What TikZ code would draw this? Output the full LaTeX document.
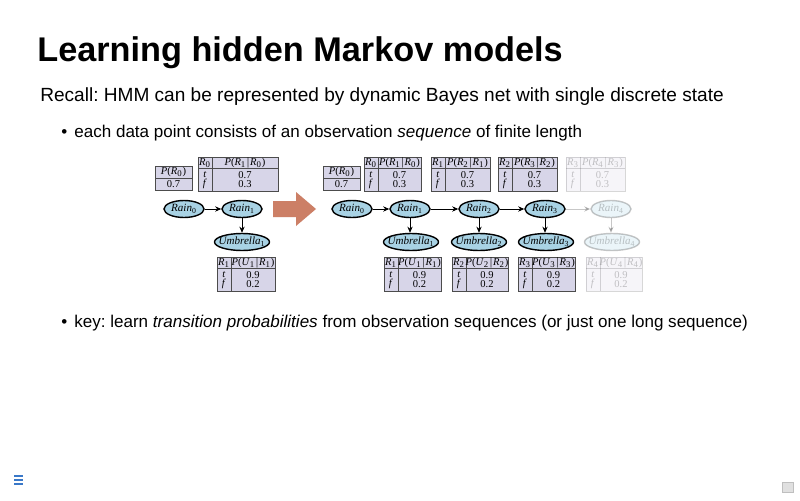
\documentclass[tikz,border=0pt]{standalone}
\usepackage{fontspec}
\setmainfont{Liberation Sans}
\newfontfamily\diagfont{Liberation Serif}
\usetikzlibrary{positioning,arrows.meta,shapes.geometric}
\frenchspacing

\definecolor{cptfill}{HTML}{D7D5E8}
\definecolor{statefill}{HTML}{A8D2E4}
\definecolor{bigarrow}{HTML}{CC7F66}
\definecolor{menublue}{HTML}{3A78C8}

% italic variable with subscript
\newcommand{\rv}[2]{\textit{#1}\textsubscript{#2}}

\tikzset{
  statenode/.style={ellipse, draw=black, line width=0.8pt, fill=statefill, inner xsep=-10pt, inner ysep=-5pt,
    minimum height=0.34cm, font=\diagfont\fontsize{6.3}{7}\selectfont},
  cptbox/.style={draw=black!70, line width=0.4pt, fill=cptfill},
  cptrule/.style={draw=black!70, line width=0.4pt},
  cpttext/.style={inner sep=0pt, font=\diagfont\fontsize{6}{6}\selectfont},
  linkarrow/.style={-{Stealth[length=3.5pt,width=3pt]}, line width=0.5pt},
  faded/.style={opacity=0.22},
}

% conditional probability table: name, left, top, width, parent, head, value t, value f
\newcommand{\cpt}[8]{%
  \filldraw[cptbox] (#2,#3) rectangle ++(#4,34);
  \draw[cptrule] (#2,#3+11.5) -- ++(#4,0);
  \draw[cptrule] (#2+14,#3) -- ++(0,34);
  \node[cpttext] (#1par) at (#2+7,#3+5.8) {#5};
  \node[cpttext] (#1head) at (#2+14+0.5*#4-7,#3+5.8) {#6};
  \node[cpttext] (#1t) at (#2+7,#3+18) {\textit{t}};
  \node[cpttext] (#1f) at (#2+7,#3+27) {\textit{f}};
  \node[cpttext] (#1tv) at (#2+14+0.5*#4-7,#3+18) {#7};
  \node[cpttext] (#1fv) at (#2+14+0.5*#4-7,#3+27) {#8};
}
% prior table: name, left, top
\newcommand{\prior}[3]{%
  \filldraw[cptbox] (#2,#3) rectangle ++(37,24);
  \draw[cptrule] (#2,#3+12) -- ++(37,0);
  \node[cpttext] (#1head) at (#2+18.5,#3+6) {\textit{P}(\rv{R}{0})};
  \node[cpttext] (#1val) at (#2+18.5,#3+18) {0.7};
}

\begin{document}
\begin{tikzpicture}[x=0.02cm,y=-0.02cm]
  \useasboundingbox[fill=white] (0,0) rectangle (800,500);

  % slide text
  \node[anchor=base west, inner sep=0pt, font=\bfseries\fontsize{19.5}{22}\selectfont] (title) at (37,62) {Learning hidden Markov models};
  \node[anchor=base west, inner sep=0pt, font=\fontsize{10.85}{13}\selectfont] (recall) at (40,101) {Recall: HMM can be represented by dynamic Bayes net with single discrete state};
  \node[anchor=base west, inner sep=0pt, font=\fontsize{9.7}{11}\selectfont] (item1) at (61,137) {\textbullet\hspace{4pt}each data point consists of an observation \textit{sequence} of finite length};
  \node[anchor=base west, inner sep=0pt, font=\fontsize{9.7}{11}\selectfont] (item2) at (61,327) {\textbullet\hspace{4pt}key: learn \textit{transition probabilities} from observation sequences (or just one long sequence)};

  % small network
  \prior{pa}{155}{166}
  \cpt{ta}{198}{157}{80}{\rv{R}{0}}{\textit{P}(\rv{R}{1}$|$\rv{R}{0})}{0.7}{0.3}
  \node[statenode, minimum width=0.8cm] (a0) at (184,209) {\rv{Rain}{0}};
  \node[statenode, minimum width=0.8cm] (a1) at (242,209) {\rv{Rain}{1}};
  \node[statenode, minimum width=1.1cm] (au1) at (242,242) {\rv{Umbrella}{1}};
  \draw[linkarrow] (a0) -- (a1);
  \draw[linkarrow] (a1) -- (au1);
  \cpt{ua}{217}{257}{58}{\rv{R}{1}}{\textit{P}(\rv{U}{1}$|$\rv{R}{1})}{0.9}{0.2}

  % unrolling arrow
  \fill[bigarrow] (273,201) -- (296,201) -- (296,192) -- (316,209) -- (296,226) -- (296,217) -- (273,217) -- cycle;

  % unrolled network
  \prior{pb}{323}{166}
  \cpt{tb0}{364}{157}{57}{\rv{R}{0}}{\textit{P}(\rv{R}{1}$|$\rv{R}{0})}{0.7}{0.3}
  \cpt{tb1}{431}{157}{59}{\rv{R}{1}}{\textit{P}(\rv{R}{2}$|$\rv{R}{1})}{0.7}{0.3}
  \cpt{tb2}{498}{157}{59}{\rv{R}{2}}{\textit{P}(\rv{R}{3}$|$\rv{R}{2})}{0.7}{0.3}
  \node[statenode, minimum width=0.8cm] (b0) at (352,209) {\rv{Rain}{0}};
  \node[statenode, minimum width=0.8cm] (b1) at (410,209) {\rv{Rain}{1}};
  \node[statenode, minimum width=0.8cm] (b2) at (479,209) {\rv{Rain}{2}};
  \node[statenode, minimum width=0.8cm] (b3) at (545,209) {\rv{Rain}{3}};
  \node[statenode, minimum width=1.1cm] (bu1) at (411,242) {\rv{Umbrella}{1}};
  \node[statenode, minimum width=1.1cm] (bu2) at (479,242) {\rv{Umbrella}{2}};
  \node[statenode, minimum width=1.1cm] (bu3) at (546,242) {\rv{Umbrella}{3}};
  \draw[linkarrow] (b0) -- (b1);
  \draw[linkarrow] (b1) -- (b2);
  \draw[linkarrow] (b2) -- (b3);
  \draw[linkarrow] (b1) -- (b1 |- bu1.north);
  \draw[linkarrow] (b2) -- (bu2);
  \draw[linkarrow] (b3) -- (b3 |- bu3.north);
  \cpt{ub1}{384}{257}{57}{\rv{R}{1}}{\textit{P}(\rv{U}{1}$|$\rv{R}{1})}{0.9}{0.2}
  \cpt{ub2}{452}{257}{56}{\rv{R}{2}}{\textit{P}(\rv{U}{2}$|$\rv{R}{2})}{0.9}{0.2}
  \cpt{ub3}{518}{257}{57}{\rv{R}{3}}{\textit{P}(\rv{U}{3}$|$\rv{R}{3})}{0.9}{0.2}

  % next slice, not yet shown
  \begin{scope}[faded]
    \cpt{tb3}{566}{157}{59}{\rv{R}{3}}{\textit{P}(\rv{R}{4}$|$\rv{R}{3})}{0.7}{0.3}
    \node[statenode, minimum width=0.8cm] (b4) at (611,209) {\rv{Rain}{4}};
    \node[statenode, minimum width=1.1cm] (bu4) at (612,242) {\rv{Umbrella}{4}};
    \draw[linkarrow] (b3) -- (b4);
    \draw[linkarrow] (b4) -- (b4 |- bu4.north);
    \cpt{ub4}{586}{257}{56}{\rv{R}{4}}{\textit{P}(\rv{U}{4}$|$\rv{R}{4})}{0.9}{0.2}
  \end{scope}

  % navigation marks
  \draw[menublue, line width=0.9pt] (14,476) -- (23,476) (14,480) -- (23,480) (14,484) -- (23,484);
  \filldraw[draw=black!25, fill=black!12] (782,482) rectangle (793,492);
\end{tikzpicture}
\end{document}
